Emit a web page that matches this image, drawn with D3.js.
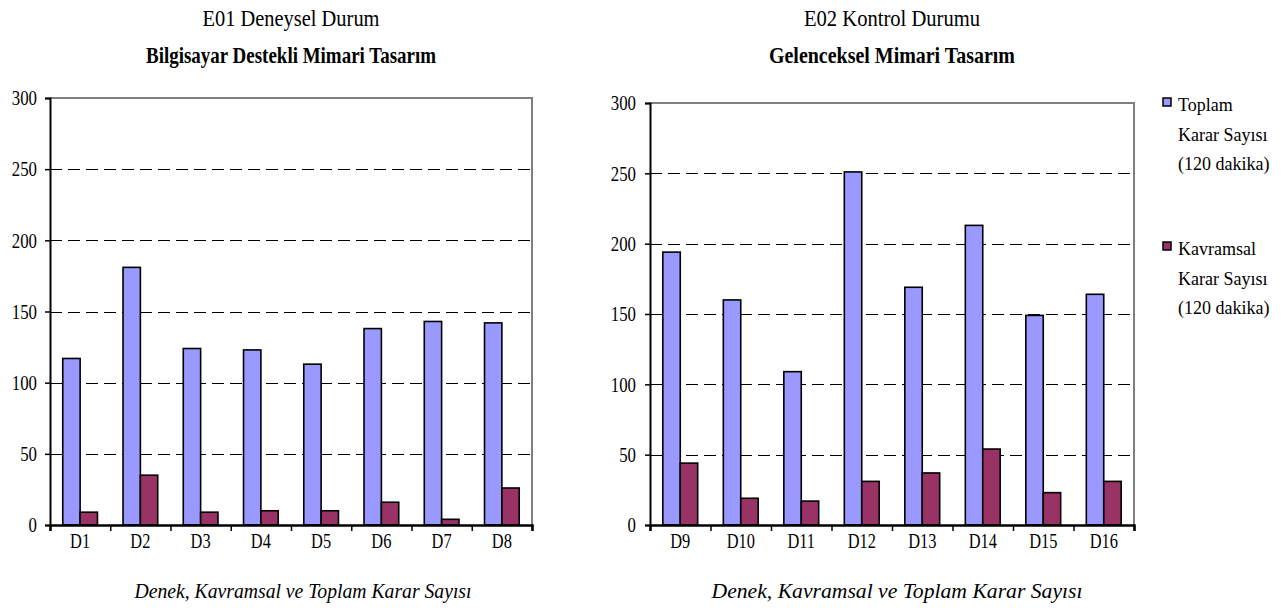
<!DOCTYPE html>
<html>
<head>
<meta charset="utf-8">
<script src="https://cdn.jsdelivr.net/npm/d3@7"></script>
<style>
  body { margin: 0; background: #fff; }
  text { font-family: "Liberation Serif", "Times New Roman", serif; fill: #000; }
</style>
</head>
<body>
<svg id="chart" width="1283" height="608"></svg>
<script>
// DATA
const leftCats = ['D1', 'D2', 'D3', 'D4', 'D5', 'D6', 'D7', 'D8'];
const leftTotal = [117, 181, 124, 123, 113, 138, 143, 142];
const leftKav = [9, 35, 9, 10, 10, 16, 4, 26];

const rightCats = ['D9', 'D10', 'D11', 'D12', 'D13', 'D14', 'D15', 'D16'];
const rightTotal = [194, 160, 109, 251, 169, 213, 149, 164];
const rightKav = [44, 19, 17, 31, 37, 54, 23, 31];

const yTicks = [0, 50, 100, 150, 200, 250, 300];
const seriesNames = [['Toplam', 'Karar Sayısı', '(120 dakika)'], ['Kavramsal', 'Karar Sayısı', '(120 dakika)']];
const colors = ['#9999ff', '#993366'];

const svg = d3.select('#chart');
svg.append('rect').attr('width', 1283).attr('height', 608).attr('fill', '#fff');

// NARROW THE TEXT LIKE THE ORIGINAL (CONDENSED TIMES)
function condense(sel, k) {
  sel.each(function () {
    const w = this.getComputedTextLength();
    d3.select(this).attr('textLength', w * k).attr('lengthAdjust', 'spacingAndGlyphs');
  });
}

// DRAW ONE PANEL
function panel(o) {
  const g = svg.append('g');
  const x = d3.scaleBand().domain(o.cats).range([o.x0, o.x1]).padding(0);
  const xb = d3.scaleLinear().domain([0, o.cats.length]).range([o.x0, o.x1]);
  const y = d3.scaleLinear().domain([0, 300]).range([o.y1, o.y0]);

  // GRID
  g.append('g').selectAll('line')
    .data(yTicks.filter(t => t > 0 && t < 300))
    .enter().append('line')
    .attr('x1', o.x0).attr('x2', o.x1)
    .attr('y1', d => Math.round(y(d)) + 0.5).attr('y2', d => Math.round(y(d)) + 0.5)
    .attr('stroke', '#000').attr('stroke-width', 1).attr('stroke-dasharray', '12,6');

  // FRAME (top + right)
  g.append('path')
    .attr('d', `M${o.x0},${y(300)}H${o.x1}V${o.y1}`)
    .attr('fill', 'none').attr('stroke', '#808080').attr('stroke-width', 2);

  // BARS
  const bw = x.bandwidth() * 0.288;
  const series = [o.total, o.kav];
  series.forEach((vals, si) => {
    g.append('g').selectAll('rect')
      .data(vals)
      .enter().append('rect')
      .attr('x', (d, i) => x(o.cats[i]) + x.bandwidth() / 2 - bw + si * bw)
      .attr('y', d => y(d))
      .attr('width', bw)
      .attr('height', d => y(0) - y(d))
      .attr('fill', colors[si])
      .attr('stroke', '#000').attr('stroke-width', 1.6);
  });

  // Y AXIS
  const ya = g.append('g').attr('transform', `translate(${o.x0},0)`)
    .call(d3.axisLeft(y).tickValues(yTicks).tickSize(5).tickPadding(o.pad));
  ya.select('.domain').attr('stroke', '#000').attr('stroke-width', 2);
  ya.selectAll('.tick line').attr('stroke', '#000').attr('stroke-width', 1.5);
  ya.selectAll('text').attr('font-family', '"Liberation Serif", serif').attr('font-size', 21).attr('fill', '#000')
    .call(condense, 0.8);

  // X AXIS TICKS AT BOUNDARIES
  const xa = g.append('g').attr('transform', `translate(0,${o.y1})`)
    .call(d3.axisBottom(xb).tickValues(d3.range(o.cats.length + 1)).tickSize(6).tickFormat(''));
  xa.select('.domain').attr('stroke', '#000').attr('stroke-width', 2.5);
  xa.selectAll('.tick line').attr('stroke', '#000').attr('stroke-width', 1.5);

  // X LABELS
  const xl = g.append('g').attr('transform', `translate(0,${o.y1})`)
    .call(d3.axisBottom(x).tickSize(0).tickPadding(8));
  xl.select('.domain').remove();
  xl.selectAll('text').attr('font-family', '"Liberation Serif", serif').attr('font-size', 21).attr('fill', '#000')
    .call(condense, 0.78);

  // TITLES
  const cx = (o.x0 + o.x1) / 2;
  g.append('text').attr('x', cx).attr('y', 26).attr('text-anchor', 'middle')
    .attr('font-size', 23).attr('textLength', o.t1w).attr('lengthAdjust', 'spacingAndGlyphs').text(o.title1);
  g.append('text').attr('x', cx).attr('y', 63).attr('text-anchor', 'middle')
    .attr('font-size', 24).attr('font-weight', 'bold').attr('textLength', o.t2w).attr('lengthAdjust', 'spacingAndGlyphs').text(o.title2);
  g.append('text').attr('x', o.axCx).attr('y', 598).attr('text-anchor', 'middle')
    .attr('font-size', 22).attr('font-style', 'italic').attr('textLength', o.axW).attr('lengthAdjust', 'spacingAndGlyphs').text(o.axTitle);
}

panel({
  cats: leftCats, total: leftTotal, kav: leftKav,
  x0: 50, x1: 532, y0: 98, y1: 525, pad: 8,
  title1: 'E01 Deneysel Durum', t1w: 177,
  title2: 'Bilgisayar Destekli Mimari Tasarım', t2w: 290,
  axTitle: 'Denek, Kavramsal ve Toplam Karar Sayısı', axCx: 303, axW: 337
});
panel({
  cats: rightCats, total: rightTotal, kav: rightKav,
  x0: 650, x1: 1134, y0: 103, y1: 525, pad: 9,
  title1: 'E02 Kontrol Durumu', t1w: 176,
  title2: 'Gelenceksel Mimari Tasarım', t2w: 246,
  axTitle: 'Denek,  Kavramsal ve Toplam Karar Sayısı', axCx: 897, axW: 371
});

// LEGEND
const leg = svg.append('g').attr('transform', 'translate(1163,98)');
seriesNames.forEach((lines, i) => {
  const it = leg.append('g').attr('transform', `translate(0,${i * 144})`);
  it.append('rect').attr('x', 0).attr('y', 0).attr('width', 8).attr('height', 8)
    .attr('fill', colors[i]).attr('stroke', '#000').attr('stroke-width', 1.5);
  lines.forEach((ln, j) => {
    it.append('text').attr('x', 15).attr('y', 13 + j * 29.5)
      .attr('font-size', 18).text(ln);
  });
});
</script>
</body>
</html>
